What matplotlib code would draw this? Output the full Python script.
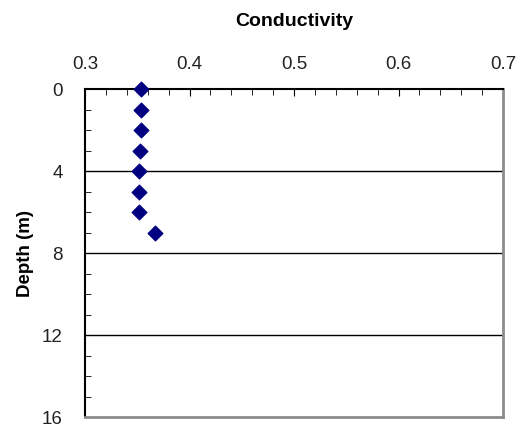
import matplotlib

matplotlib.use("Agg")

import matplotlib.pyplot as plt
from matplotlib.ticker import MultipleLocator

plt.rcParams["font.family"] = ["Liberation Sans", "DejaVu Sans"]

depth = [0, 1, 2, 3, 4, 5, 6, 7]
conductivity = [0.354, 0.354, 0.354, 0.353, 0.352, 0.352, 0.352, 0.367]
x_ticks = [0.3, 0.4, 0.5, 0.6, 0.7]
y_ticks = [0, 4, 8, 12, 16]
grid_depths = [4, 8, 12]

fig = plt.figure(figsize=(5.3, 4.35), dpi=100)
ax = fig.add_axes([85 / 530, 1 - 418 / 435, (503 - 85) / 530, (418 - 90) / 435])

ax.scatter(conductivity, depth, marker="D", s=55, color="#000080", zorder=3, clip_on=False)

for d in grid_depths:
    ax.axhline(d, color="black", linewidth=1.0, zorder=1)

ax.set_xlim(0.3, 0.7)
ax.set_ylim(16, 0)
ax.xaxis.tick_top()
ax.xaxis.set_label_position("top")
ax.set_xticks(x_ticks, [f"{v:.1f}" for v in x_ticks])
ax.set_yticks(y_ticks, [str(v) for v in y_ticks])
ax.xaxis.set_minor_locator(MultipleLocator(0.02))
ax.yaxis.set_minor_locator(MultipleLocator(1))

ax.tick_params(axis="x", which="major", direction="in", length=5, pad=12, labelsize=13.5, labelcolor="#222222")
ax.tick_params(axis="x", which="minor", direction="in", length=4.5, top=True, bottom=False)
ax.tick_params(axis="y", which="major", direction="in", length=0, pad=16, labelsize=13.5, labelcolor="#222222")
ax.tick_params(axis="y", which="minor", direction="in", length=4.5)

ax.set_xlabel("Conductivity", fontsize=14, fontweight="bold", labelpad=22)
ax.set_ylabel("Depth (m)", fontsize=13.5, fontweight="bold", labelpad=6)

ax.spines["left"].set_color("black")
ax.spines["left"].set_linewidth(1.5)
ax.spines["top"].set_color("black")
ax.spines["top"].set_linewidth(1.5)
ax.spines["right"].set_color("#8c8c8c")
ax.spines["right"].set_linewidth(2)
ax.spines["bottom"].set_color("#8c8c8c")
ax.spines["bottom"].set_linewidth(2)

fig.savefig("out.png", dpi=100)
